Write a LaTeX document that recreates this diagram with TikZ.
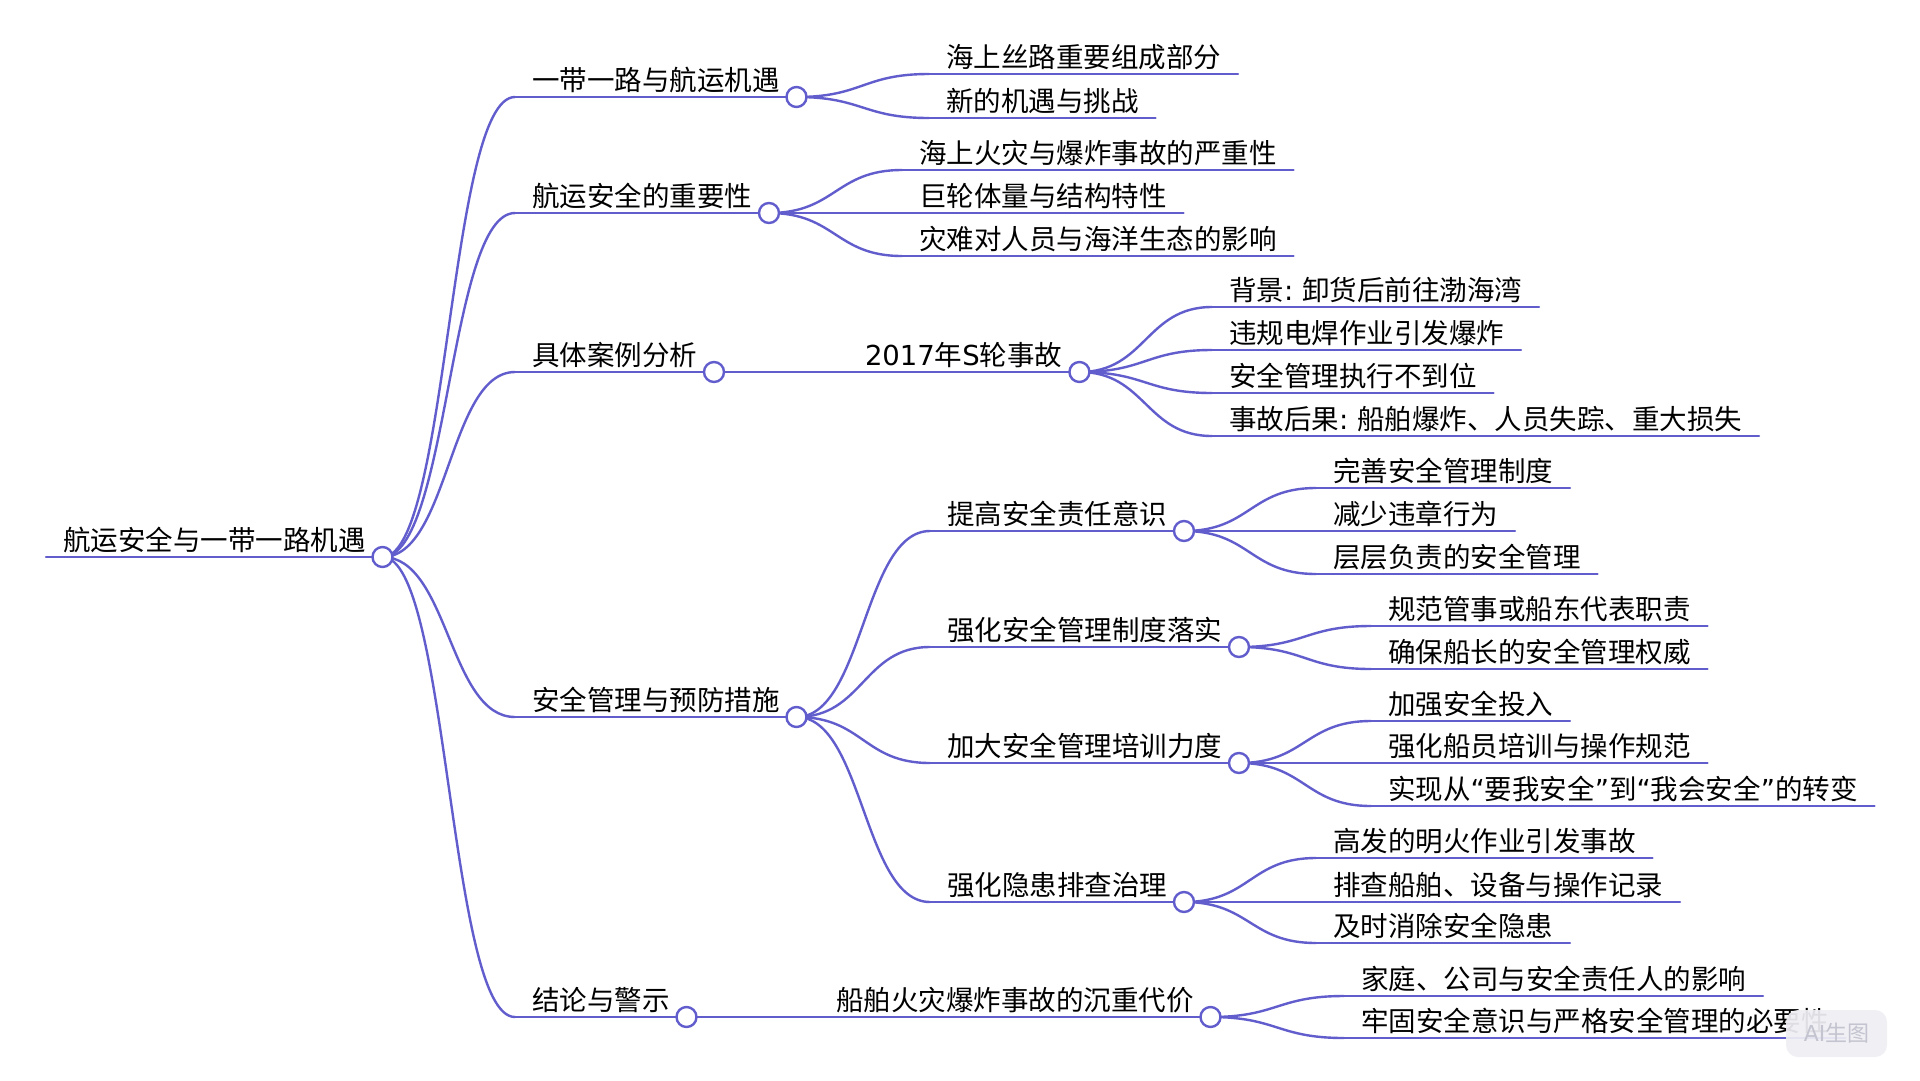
\documentclass[tikz,border=0pt]{standalone}
\usepackage{fontspec}
\setmainfont{Noto Sans CJK SC}
\newfontfamily\dv{DejaVu Sans}
\usetikzlibrary{calc}
\definecolor{lc}{RGB}{98,93,205}
\definecolor{wmfill}{RGB}{238,238,244}
\definecolor{wmtext}{RGB}{196,196,208}
\pgfdeclarelayer{bg}
\pgfsetlayers{bg,main}
\newcommand\mmlink[2]{\draw[link] let \p1=(#1), \p2=(#2) in (\p1) .. controls ({(\x1+\x2)/2},\y1) and ({(\x1+\x2)/2},\y2) .. (\p2);}
\newcommand\uline[1]{\draw[link] (#1.south west) -- (#1.south east);}
\begin{document}
\begin{tikzpicture}[x=1pt,y=-1pt,
 mm/.style={anchor=south west, inner xsep=17pt, inner ysep=0pt, text height=22pt, text depth=7pt, outer sep=0pt, font=\fontsize{27.5pt}{33pt}\selectfont, text=black},
 dotc/.style={circle, draw=lc, fill=white, line width=2.4pt, minimum size=20pt, inner sep=0pt, outer sep=0pt},
 link/.style={draw=lc, line width=2.4pt, line cap=round}]
\useasboundingbox (0,0) rectangle (1920,1080);

% root
\node[mm] (R) at (46,557) {航运安全与一带一路机遇};
\node[dotc] (Rd) at (R.south east) {};

% level 1
\node[mm] (A) at (515,97) {一带一路与航运机遇};
\node[dotc] (Ad) at (A.south east) {};
\node[mm] (B) at (515,213) {航运安全的重要性};
\node[dotc] (Bd) at (B.south east) {};
\node[mm] (C) at (515,372) {具体案例分析};
\node[dotc] (Cd) at (C.south east) {};
\node[mm] (D) at (515,717) {安全管理与预防措施};
\node[dotc] (Dd) at (D.south east) {};
\node[mm] (E) at (515,1017) {结论与警示};
\node[dotc] (Ed) at (E.south east) {};

% A children
\node[mm] (A1) at (929,74) {海上丝路重要组成部分};
\node[mm] (A2) at (929,118) {新的机遇与挑战};
% B children
\node[mm] (B1) at (902,170) {海上火灾与爆炸事故的严重性};
\node[mm] (B2) at (902,213) {巨轮体量与结构特性};
\node[mm] (B3) at (902,256) {灾难对人员与海洋生态的影响};
% C children
\node[mm] (C1) at (848,372) {{\dv 2017}年{\dv S}轮事故};
\node[dotc] (C1d) at (C1.south east) {};
\node[mm] (C1a) at (1212,307) {背景{\dv :\ }卸货后前往渤海湾};
\node[mm] (C1b) at (1212,350) {违规电焊作业引发爆炸};
\node[mm] (C1c) at (1212,393) {安全管理执行不到位};
\node[mm] (C1e) at (1212,436) {事故后果{\dv :\ }船舶爆炸、人员失踪、重大损失};
% D children
\node[mm] (D1) at (930,531) {提高安全责任意识};
\node[dotc] (D1d) at (D1.south east) {};
\node[mm] (D2) at (930,647) {强化安全管理制度落实};
\node[dotc] (D2d) at (D2.south east) {};
\node[mm] (D3) at (930,763) {加大安全管理培训力度};
\node[dotc] (D3d) at (D3.south east) {};
\node[mm] (D4) at (930,902) {强化隐患排查治理};
\node[dotc] (D4d) at (D4.south east) {};
\node[mm] (D1a) at (1316,488) {完善安全管理制度};
\node[mm] (D1b) at (1316,531) {减少违章行为};
\node[mm] (D1c) at (1316,574) {层层负责的安全管理};
\node[mm] (D2a) at (1371,626) {规范管事或船东代表职责};
\node[mm] (D2b) at (1371,669) {确保船长的安全管理权威};
\node[mm] (D3a) at (1371,721) {加强安全投入};
\node[mm] (D3b) at (1371,763) {强化船员培训与操作规范};
\node[mm] (D3c) at (1371,806) {实现从{\dv “}要我安全{\dv ”}到{\dv “}我会安全{\dv ”}的转变};
\node[mm] (D4a) at (1316,858) {高发的明火作业引发事故};
\node[mm] (D4b) at (1316,902) {排查船舶、设备与操作记录};
\node[mm] (D4c) at (1316,943) {及时消除安全隐患};
% E children
\node[mm] (E1) at (819,1017) {船舶火灾爆炸事故的沉重代价};
\node[dotc] (E1d) at (E1.south east) {};
\node[mm] (E1a) at (1344,996) {家庭、公司与安全责任人的影响};
\node[mm] (E1b) at (1344,1038) {牢固安全意识与严格安全管理的必要性};

% watermark
\node[fill=wmfill, rounded corners=12pt, minimum width=101pt, minimum height=47pt, inner sep=0pt, fill opacity=0.93, text opacity=1, text=wmtext, font=\fontsize{22pt}{26pt}\selectfont] (wm) at (1836.5,1033.5) {{\dv AI}生图};

\begin{pgfonlayer}{bg}
\fill[white] (0,0) rectangle (1920,1080);
% underlines
\foreach \n in {R,A,B,C,D,E,A1,A2,B1,B2,B3,C1,C1a,C1b,C1c,C1e,D1,D2,D3,D4,D1a,D1b,D1c,D2a,D2b,D3a,D3b,D3c,D4a,D4b,D4c,E1,E1a,E1b}{\uline{\n}}
% links
\mmlink{Rd.center}{A.south west}
\mmlink{Rd.center}{B.south west}
\mmlink{Rd.center}{C.south west}
\mmlink{Rd.center}{D.south west}
\mmlink{Rd.center}{E.south west}
\mmlink{Ad.center}{A1.south west}
\mmlink{Ad.center}{A2.south west}
\mmlink{Bd.center}{B1.south west}
\mmlink{Bd.center}{B2.south west}
\mmlink{Bd.center}{B3.south west}
\mmlink{Cd.center}{C1.south west}
\mmlink{C1d.center}{C1a.south west}
\mmlink{C1d.center}{C1b.south west}
\mmlink{C1d.center}{C1c.south west}
\mmlink{C1d.center}{C1e.south west}
\mmlink{Dd.center}{D1.south west}
\mmlink{Dd.center}{D2.south west}
\mmlink{Dd.center}{D3.south west}
\mmlink{Dd.center}{D4.south west}
\mmlink{D1d.center}{D1a.south west}
\mmlink{D1d.center}{D1b.south west}
\mmlink{D1d.center}{D1c.south west}
\mmlink{D2d.center}{D2a.south west}
\mmlink{D2d.center}{D2b.south west}
\mmlink{D3d.center}{D3a.south west}
\mmlink{D3d.center}{D3b.south west}
\mmlink{D3d.center}{D3c.south west}
\mmlink{D4d.center}{D4a.south west}
\mmlink{D4d.center}{D4b.south west}
\mmlink{D4d.center}{D4c.south west}
\mmlink{Ed.center}{E1.south west}
\mmlink{E1d.center}{E1a.south west}
\mmlink{E1d.center}{E1b.south west}
\end{pgfonlayer}
\end{tikzpicture}
\end{document}
